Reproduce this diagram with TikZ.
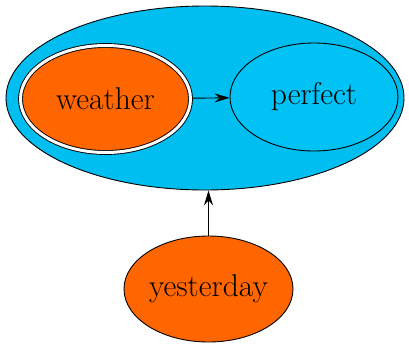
\documentclass[tikz,border=0pt]{standalone}
\usetikzlibrary{shapes.geometric,arrows.meta}
\definecolor{sky}{RGB}{0,190,240}
\definecolor{sky2}{RGB}{0,194,245}
\definecolor{orng}{RGB}{255,102,0}
\begin{document}
\begin{tikzpicture}[x=1pt,y=-1pt,
  ell/.style={ellipse,draw=black,line width=0.9pt,inner sep=0pt,font=\fontsize{31.5}{33}\selectfont},
  conn/.style={-{Stealth[length=15pt,width=9pt,inset=5pt]},line width=0.9pt}]
\useasboundingbox (0,0) rectangle (409,343);
\node[ell,fill=sky,minimum width=398pt,minimum height=184pt] (big) at (205,98) {};
\node[ell,fill=orng,double=white,double distance=3pt,minimum width=170pt,minimum height=107pt] (weather) at (105.5,99) {weather};
\node[ell,fill=sky2,minimum width=168pt,minimum height=108pt] (perfect) at (314,97) {perfect};
\node[ell,fill=orng,minimum width=169pt,minimum height=106pt] (yesterday) at (208.5,289) {yesterday};
\draw[conn,shorten <=2pt] (weather) -- (perfect);
\draw[conn] (yesterday) -- (yesterday |- big.south);
\end{tikzpicture}
\end{document}
